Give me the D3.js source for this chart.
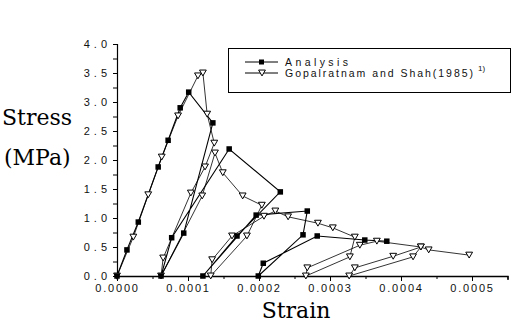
<!DOCTYPE html>
<html>
<head>
<meta charset="utf-8">
<script src="https://cdn.jsdelivr.net/npm/d3@7"></script>
<style>
  html, body { margin: 0; padding: 0; background: #fff; }
  svg { display: block; }
  .tick-label { font-family: "Liberation Sans", Arial, sans-serif; font-size: 11px; fill: #111; }
  .axis-title { font-family: "DejaVu Serif", serif; font-size: 22px; fill: #000; }
  .legend-text { font-family: "Liberation Sans", Arial, sans-serif; font-size: 10.5px; fill: #111; }
</style>
</head>
<body>
<svg id="mainsvg" width="516" height="322"></svg>
<script>
// analysis (filled squares): envelope, then unload / reload loops
var analysisStrain = [0, 0.000014, 0.000030, 0.000058, 0.000072, 0.000089, 0.000101, 0.000135,
  0.000094, 0.000062,
  0.000077, 0.000158,
  0.000230,
  0.000169, 0.000121,
  0.000196, 0.000268,
  0.000262, 0.000199,
  0.000206, 0.000282, 0.000349, 0.000380];
var analysisStress = [0, 0.45, 0.93, 1.88, 2.34, 2.90, 3.17, 2.64,
  0.74, 0,
  0.66, 2.19,
  1.45,
  0.69, 0,
  1.05, 1.12,
  0.71, 0,
  0.22, 0.69, 0.62, 0.60];

// Gopalratnam and Shah (1985) test (open triangles)
var testStrain = [0, 0.000023, 0.000044, 0.000063, 0.000086, 0.000114, 0.000121, 0.000127, 0.000137,
  0.000124, 0.000104, 0.000065, 0.000062,
  0.000120, 0.000138,
  0.000149, 0.000177, 0.000204,
  0.000183, 0.000132,
  0.000134, 0.000162, 0.000207,
  0.000223, 0.000241, 0.000283, 0.000304, 0.000335,
  0.000328, 0.000266,
  0.000268, 0.000342, 0.000366, 0.000428,
  0.000417, 0.000327,
  0.000335, 0.000389, 0.000428,
  0.000439, 0.000496];
var testStress = [0, 0.67, 1.40, 2.05, 2.76, 3.45, 3.50, 2.79, 2.29,
  1.88, 1.43, 0.31, 0,
  1.38, 2.12,
  1.78, 1.38, 1.22,
  0.69, 0,
  0.28, 0.69, 1.03,
  1.12, 1.02, 0.91, 0.83, 0.67,
  0.33, 0,
  0.14, 0.53, 0.60, 0.50,
  0.33, 0,
  0.14, 0.34, 0.50,
  0.45, 0.36];

var xTicks = [0, 0.0001, 0.0002, 0.0003, 0.0004, 0.0005];
var yTicks = [0, 0.5, 1.0, 1.5, 2.0, 2.5, 3.0, 3.5, 4.0];
var legendLabels = ["Analysis", "Gopalratnam and Shah(1985)"];

var svg = d3.select("#mainsvg");

var x = d3.scaleLinear().domain([0, 0.00055]).range([117, 507.5]);
var y = d3.scaleLinear().domain([0, 4]).range([276, 44]);

// axes
var xAxis = d3.axisBottom(x)
  .tickValues(d3.range(0, 0.000551, 0.00005))
  .tickSize(4)
  .tickFormat(function (d) {
    var i = xTicks.findIndex(function (t) { return Math.abs(t - d) < 1e-9; });
    return i < 0 ? "" : d3.format(".4f")(xTicks[i]);
  });
var gx = svg.append("g").attr("transform", "translate(0,276)").call(xAxis);
gx.select(".domain").attr("stroke", "#000").attr("stroke-width", 1.4);
gx.selectAll(".tick line").attr("stroke", "#000").attr("y2", function (d) {
  return xTicks.some(function (t) { return Math.abs(t - d) < 1e-9; }) ? 5 : 3;
});
gx.selectAll(".tick text")
  .attr("class", "tick-label")
  .attr("y", 8)
  .style("letter-spacing", "1.8px")
  .attr("font-family", null).attr("font-size", null);

var yAxis = d3.axisLeft(y)
  .tickValues(d3.range(0, 4.01, 0.25))
  .tickSize(4)
  .tickFormat(function (d) {
    return yTicks.indexOf(d) < 0 ? "" : d3.format(".1f")(d);
  });
var gy = svg.append("g").attr("transform", "translate(117,0)").call(yAxis);
gy.select(".domain").attr("stroke", "#000").attr("stroke-width", 1.2);
gy.selectAll(".tick line").attr("stroke", "#000");
gy.selectAll(".tick text")
  .attr("class", "tick-label")
  .attr("x", -6)
  .style("letter-spacing", "4px")
  .attr("font-family", null).attr("font-size", null);
gx.attr("font-family", null).attr("font-size", null);
gy.attr("font-family", null).attr("font-size", null);

// axis titles
svg.append("text").attr("class", "axis-title").attr("x", 2).attr("y", 125).text("Stress");
svg.append("text").attr("class", "axis-title").attr("x", 4).attr("y", 165).text("(MPa)");
svg.append("text").attr("class", "axis-title").attr("x", 296).attr("y", 318)
  .attr("text-anchor", "middle").text("Strain");

// series
var analysis = analysisStrain.map(function (d, i) { return [d, analysisStress[i]]; });
var test = testStrain.map(function (d, i) { return [d, testStress[i]]; });

var line = d3.line()
  .x(function (d) { return x(d[0]); })
  .y(function (d) { return y(d[1]); });

var tri = d3.symbol().type(d3.symbolTriangle).size(20);

svg.append("path").datum(test)
  .attr("d", line).attr("fill", "none").attr("stroke", "#000").attr("stroke-width", 0.8);
svg.append("path").datum(analysis)
  .attr("d", line).attr("fill", "none").attr("stroke", "#000").attr("stroke-width", 1.1);

svg.append("g").selectAll("path")
  .data(test).enter().append("path")
  .attr("d", tri)
  .attr("transform", function (d) { return "translate(" + x(d[0]) + "," + (y(d[1]) - 1) + ") rotate(180)"; })
  .attr("fill", "#fff").attr("stroke", "#000").attr("stroke-width", 1);

svg.append("g").selectAll("rect")
  .data(analysis).enter().append("rect")
  .attr("x", function (d) { return x(d[0]) - 2.75; })
  .attr("y", function (d) { return y(d[1]) - 2.75; })
  .attr("width", 5.5).attr("height", 5.5)
  .attr("fill", "#000");

// legend
var legend = svg.append("g");
legend.append("rect")
  .attr("x", 228.5).attr("y", 48.5).attr("width", 282).attr("height", 44)
  .attr("fill", "#fff").attr("stroke", "#000").attr("stroke-width", 1);
var rows = [62, 73];
rows.forEach(function (ry, i) {
  legend.append("line").attr("x1", 245).attr("x2", 278).attr("y1", ry).attr("y2", ry)
    .attr("stroke", "#000").attr("stroke-width", 1);
  if (i === 0) {
    legend.append("rect").attr("x", 259).attr("y", ry - 2.5).attr("width", 5).attr("height", 5).attr("fill", "#000");
  } else {
    legend.append("path").attr("d", tri)
      .attr("transform", "translate(262," + (ry - 1) + ") rotate(180)")
      .attr("fill", "#fff").attr("stroke", "#000");
  }
  legend.append("text").attr("class", "legend-text")
    .attr("x", 285).attr("y", ry + 4)
    .attr("textLength", i === 0 ? 63 : 188).attr("lengthAdjust", "spacing")
    .text(legendLabels[i]);
});
legend.append("text").attr("class", "legend-text")
  .attr("x", 478).attr("y", 71).style("font-size", "8px").text("1)");
</script>
</body>
</html>
